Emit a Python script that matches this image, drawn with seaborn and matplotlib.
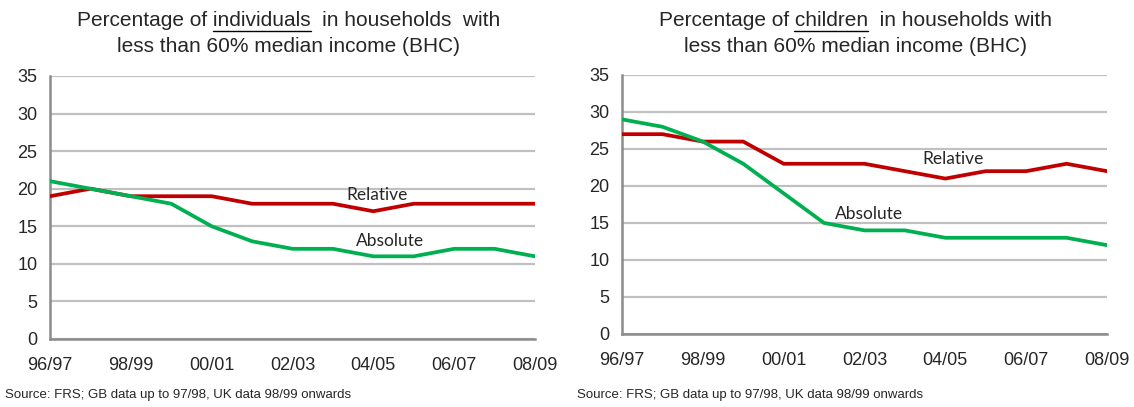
import matplotlib
matplotlib.use('Agg')
import matplotlib.pyplot as plt
import seaborn as sns
import pandas as pd

# Data
years = ['96/97', '97/98', '98/99', '99/00', '00/01', '01/02', '02/03',
         '03/04', '04/05', '05/06', '06/07', '07/08', '08/09']
ind_relative = [19, 20, 19, 19, 19, 18, 18, 18, 17, 18, 18, 18, 18]
ind_absolute = [21, 20, 19, 18, 15, 13, 12, 12, 11, 11, 12, 12, 11]
chd_relative = [27, 27, 26, 26, 23, 23, 23, 22, 21, 22, 22, 23, 22]
chd_absolute = [29, 28, 26, 23, 19, 15, 14, 14, 13, 13, 13, 13, 12]

RED = '#C00000'
GREEN = '#00B050'
GRID = '#C0C0C0'
AXIS = '#8C8C8C'

sns.set_style('white')
plt.rcParams['font.family'] = ['Liberation Sans', 'DejaVu Sans']

fig = plt.figure(figsize=(11.34, 4.07), dpi=100)
ax1 = fig.add_axes([0.0441, 0.1671, 0.4277, 0.6462])
ax2 = fig.add_axes([0.5485, 0.1794, 0.4277, 0.6364])


def make_df(rel, ab):
    n = len(years)
    return pd.DataFrame({
        'idx': list(range(n)) * 2,
        'value': rel + ab,
        'series': ['Relative'] * n + ['Absolute'] * n,
    })


def draw_panel(ax, rel, ab, rel_xy, ab_xy):
    df = make_df(rel, ab)
    sns.lineplot(data=df, x='idx', y='value', hue='series',
                 palette={'Relative': RED, 'Absolute': GREEN},
                 linewidth=2.7, legend=False, ax=ax, zorder=3)
    ax.set_xlim(0, len(years) - 1)
    ax.set_ylim(0, 35)
    ax.set_yticks(range(0, 36, 5))
    ax.set_xticks(range(len(years)))
    ax.set_xticklabels([y if i % 2 == 0 else '' for i, y in enumerate(years)])
    ax.set_xlabel('')
    ax.set_ylabel('')
    for s in ['top', 'right']:
        ax.spines[s].set_visible(False)
    ax.spines['left'].set_color(AXIS)
    ax.spines['left'].set_linewidth(1.8)
    ax.spines['bottom'].set_color(AXIS)
    ax.spines['bottom'].set_linewidth(1.8)
    ax.spines['bottom'].set_zorder(4)
    ax.yaxis.grid(True, color=GRID, linewidth=1.6)
    ax.xaxis.grid(False)
    ax.set_axisbelow(True)
    ax.tick_params(axis='y', length=0, pad=9, labelsize=13)
    ax.tick_params(axis='x', direction='out', length=5, width=1.8,
                   color=AXIS, pad=8, labelsize=13)
    ax.text(rel_xy[0], rel_xy[1], 'Relative', ha='center', va='center',
            fontsize=12.5, family=['Lato', 'DejaVu Sans'], zorder=5)
    ax.text(ab_xy[0], ab_xy[1], 'Absolute', ha='center', va='center',
            fontsize=12.5, family=['Lato', 'DejaVu Sans'], zorder=5)


draw_panel(ax1, ind_relative, ind_absolute, (8.1, 19.1), (8.4, 13.1))
draw_panel(ax2, chd_relative, chd_absolute, (8.2, 23.6), (6.1, 16.2))


def underlined_title(xc, y, pre, word, post, line2):
    fs = 15
    fig.canvas.draw()
    r = fig.canvas.get_renderer()
    parts = [pre, word, post]
    widths = []
    for p in parts:
        t = fig.text(0, 0, p, fontsize=fs)
        bb = t.get_window_extent(renderer=r)
        widths.append(bb.width)
        t.remove()
    total = sum(widths)
    x0 = xc * 1134 - total / 2
    fig.text(x0 / 1134, y, pre + word + post, fontsize=fs, ha='left', va='baseline')
    ux0 = (x0 + widths[0]) / 1134
    ux1 = (x0 + widths[0] + widths[1]) / 1134
    fig.add_artist(plt.Line2D([ux0, ux1], [y - 0.013, y - 0.013],
                              color='black', linewidth=1.0,
                              transform=fig.transFigure))
    fig.text(xc, y - 0.064, line2, fontsize=fs, ha='center', va='baseline')


underlined_title(0.2545, 0.937, 'Percentage of ', 'individuals', '  in households  with',
                 'less than 60% median income (BHC)')
underlined_title(0.754, 0.937, 'Percentage of ', 'children', '  in households with',
                 'less than 60% median income (BHC)')

src = 'Source: FRS; GB data up to 97/98, UK data 98/99 onwards'
fig.text(0.004, 0.022, src, fontsize=9.5,
         family=['Liberation Sans Narrow', 'Liberation Sans'])
fig.text(0.509, 0.022, src, fontsize=9.5,
         family=['Liberation Sans Narrow', 'Liberation Sans'])

fig.savefig('out.png', dpi=100)
